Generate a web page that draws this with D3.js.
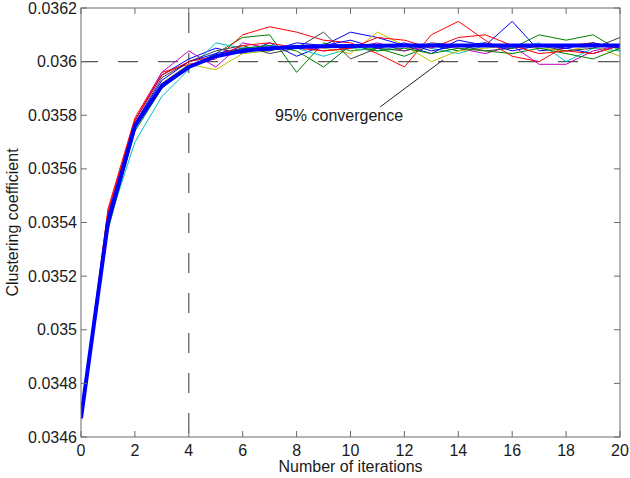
<!DOCTYPE html>
<html lang="en">
<head>
<meta charset="UTF-8">
<title>Clustering coefficient convergence</title>
<script src="https://cdnjs.cloudflare.com/ajax/libs/d3/7.8.5/d3.min.js"></script>
<style>
    body { margin: 0; background: #fff; }
    svg { font-family: 'Liberation Sans', Arial, sans-serif; }
    .tick-label { font-size: 16px; fill: #1a1a1a; }
    .axis-title { font-size: 16px; fill: #1a1a1a; }
</style>
</head>
<body>
<div id="chart"></div>
<script>
// iterations 0..20
const iterations = d3.range(0, 21);

// individual runs (thin lines)
const run1 = [0.03467, 0.03543, 0.03578, 0.03595, 0.03601, 0.03605, 0.03603, 0.03607, 0.03602, 0.03606, 0.03611, 0.03609, 0.03606, 0.03603, 0.03608, 0.03606, 0.03615, 0.03604, 0.03605, 0.03603, 0.03606];
const run2 = [0.03467, 0.03537, 0.03575, 0.03591, 0.03598, 0.03603, 0.03609, 0.03610, 0.03596, 0.03607, 0.03604, 0.03605, 0.03602, 0.03606, 0.03604, 0.03607, 0.03605, 0.03610, 0.03608, 0.03610, 0.03604];
const run3 = [0.03467, 0.03545, 0.03579, 0.03596, 0.03599, 0.03601, 0.03610, 0.03613, 0.03611, 0.03608, 0.03607, 0.03603, 0.03598, 0.03610, 0.03615, 0.03608, 0.03602, 0.03600, 0.03606, 0.03607, 0.03605];
const run4 = [0.03467, 0.03539, 0.03570, 0.03587, 0.03597, 0.03607, 0.03605, 0.03606, 0.03605, 0.03602, 0.03605, 0.03604, 0.03606, 0.03605, 0.03603, 0.03606, 0.03605, 0.03607, 0.03600, 0.03605, 0.03604];
const run5 = [0.03467, 0.03541, 0.03578, 0.03596, 0.03604, 0.03598, 0.03607, 0.03605, 0.03606, 0.03604, 0.03605, 0.03607, 0.03604, 0.03606, 0.03605, 0.03603, 0.03606, 0.03599, 0.03599, 0.03604, 0.03606];
const run6 = [0.03467, 0.03540, 0.03576, 0.03592, 0.03599, 0.03597, 0.03603, 0.03604, 0.03606, 0.03605, 0.03603, 0.03611, 0.03606, 0.03600, 0.03604, 0.03605, 0.03606, 0.03605, 0.03604, 0.03606, 0.03602];
const run7 = [0.03467, 0.03540, 0.03577, 0.03594, 0.03600, 0.03604, 0.03606, 0.03603, 0.03605, 0.03611, 0.03601, 0.03605, 0.03604, 0.03607, 0.03606, 0.03604, 0.03605, 0.03606, 0.03604, 0.03605, 0.03609];
const run8 = [0.03467, 0.03542, 0.03577, 0.03593, 0.03600, 0.03603, 0.03605, 0.03604, 0.03607, 0.03606, 0.03608, 0.03605, 0.03607, 0.03604, 0.03606, 0.03607, 0.03604, 0.03606, 0.03605, 0.03607, 0.03605];
const run9 = [0.03467, 0.03538, 0.03574, 0.03590, 0.03598, 0.03602, 0.03605, 0.03606, 0.03604, 0.03598, 0.03606, 0.03604, 0.03605, 0.03603, 0.03605, 0.03604, 0.03603, 0.03605, 0.03603, 0.03601, 0.03605];
const run10 = [0.03467, 0.03544, 0.03578, 0.03595, 0.03600, 0.03602, 0.03606, 0.03607, 0.03605, 0.03604, 0.03605, 0.03609, 0.03608, 0.03605, 0.03609, 0.03610, 0.03606, 0.03603, 0.03604, 0.03603, 0.03606];

const runs = [run1, run2, run3, run4, run5, run6, run7, run8, run9, run10];
// old matlab colour order
const runColors = ["#0000ff", "#008000", "#ff0000", "#00bfbf", "#bf00bf", "#bfbf00", "#404040", "#0000ff", "#008000", "#ff0000"];

// mean curve (thick)
const meanCurve = [0.03467, 0.03540, 0.03576, 0.03591, 0.03598, 0.03602, 0.03604, 0.03605, 0.036055, 0.036057, 0.036058, 0.036059, 0.03606, 0.03606, 0.03606, 0.03606, 0.03606, 0.03606, 0.03606, 0.03606, 0.03606];

const xTicks = [0, 2, 4, 6, 8, 10, 12, 14, 16, 18, 20];
const yTicks = [0.0346, 0.0348, 0.035, 0.0352, 0.0354, 0.0356, 0.0358, 0.036, 0.0362];

const refLevel = 0.036;     // horizontal dashed line
const refIteration = 4;     // vertical dashed line
const annText = "95% convergence";
const annTextPos = [7.2, 0.03578];
const annLine = [[11.1, 0.035831], [13.43, 0.036006]];

const width = 630, height = 478;
const margin = { top: 8, right: 10, bottom: 41, left: 81 };
const iw = width - margin.left - margin.right;
const ih = height - margin.top - margin.bottom;

const svg = d3.select("#chart").append("svg")
    .attr("width", width)
    .attr("height", height);

const x = d3.scaleLinear().domain([0, 20]).range([0, iw]);
const y = d3.scaleLinear().domain([0.0346, 0.0362]).range([ih, 0]);

svg.append("defs").append("clipPath").attr("id", "clip")
    .append("rect").attr("width", iw).attr("height", ih);

const g = svg.append("g").attr("transform", `translate(${margin.left},${margin.top})`);

const line = d3.line().x((d, i) => x(iterations[i])).y(d => y(d));

const plot = g.append("g").attr("clip-path", "url(#clip)");

// dashed reference lines
plot.append("line")
    .attr("x1", x(0)).attr("x2", x(20))
    .attr("y1", y(refLevel)).attr("y2", y(refLevel))
    .attr("stroke", "#555").attr("stroke-width", 1.2)
    .attr("stroke-dasharray", "20,20").attr("stroke-dashoffset", 3);
plot.append("line")
    .attr("x1", x(refIteration)).attr("x2", x(refIteration))
    .attr("y1", 0).attr("y2", ih)
    .attr("stroke", "#555").attr("stroke-width", 1.2)
    .attr("stroke-dasharray", "20,20").attr("stroke-dashoffset", 35);

plot.selectAll(".run")
    .data(runs)
    .enter().append("path")
    .attr("class", "run")
    .attr("fill", "none")
    .attr("stroke", (d, i) => runColors[i])
    .attr("stroke-width", 1)
    .attr("d", line);

plot.append("path")
    .datum(meanCurve)
    .attr("fill", "none")
    .attr("stroke", "#0000ff")
    .attr("stroke-width", 4)
    .attr("stroke-linejoin", "round")
    .attr("d", line);

// annotation
g.append("line")
    .attr("x1", x(annLine[0][0])).attr("y1", y(annLine[0][1]))
    .attr("x2", x(annLine[1][0])).attr("y2", y(annLine[1][1]))
    .attr("stroke", "#222").attr("stroke-width", 1);
g.append("text")
    .attr("class", "axis-title")
    .attr("x", x(annTextPos[0])).attr("y", y(annTextPos[1]))
    .text(annText);

// box + ticks (matlab style, ticks inside on all sides)
const axisColor = "#6a6a6a";
g.append("rect")
    .attr("width", iw).attr("height", ih)
    .attr("fill", "none").attr("stroke", axisColor).attr("stroke-width", 1);

const tl = 6;
xTicks.forEach(t => {
    g.append("line").attr("x1", x(t)).attr("x2", x(t)).attr("y1", ih).attr("y2", ih - tl).attr("stroke", axisColor);
    g.append("line").attr("x1", x(t)).attr("x2", x(t)).attr("y1", 0).attr("y2", tl).attr("stroke", axisColor);
    g.append("text").attr("class", "tick-label")
        .attr("x", x(t)).attr("y", ih + 19)
        .attr("text-anchor", "middle")
        .text(t);
});

const fmt = d3.format(".4~f");
yTicks.forEach(t => {
    g.append("line").attr("x1", 0).attr("x2", tl).attr("y1", y(t)).attr("y2", y(t)).attr("stroke", axisColor);
    g.append("line").attr("x1", iw).attr("x2", iw - tl).attr("y1", y(t)).attr("y2", y(t)).attr("stroke", axisColor);
    g.append("text").attr("class", "tick-label")
        .attr("x", -4).attr("y", y(t))
        .attr("dy", "0.35em")
        .attr("text-anchor", "end")
        .text(fmt(t));
});

// axis titles
svg.append("text").attr("class", "axis-title")
    .attr("x", margin.left + iw / 2).attr("y", 472)
    .attr("text-anchor", "middle")
    .text("Number of iterations");
svg.append("text").attr("class", "axis-title")
    .attr("transform", `translate(18,${margin.top + ih / 2}) rotate(-90)`)
    .attr("text-anchor", "middle")
    .text("Clustering coefficient");
</script>
</body>
</html>
